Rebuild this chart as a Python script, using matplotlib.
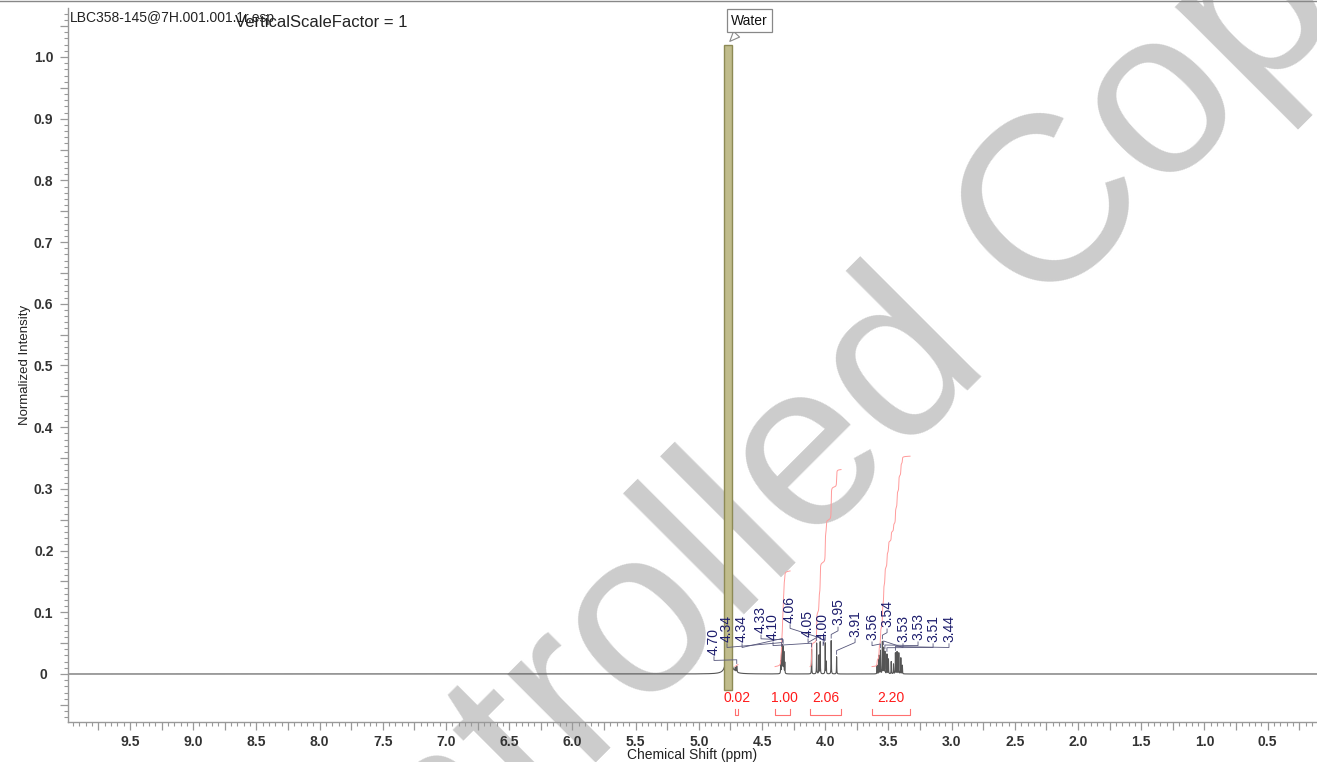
import numpy as np
import matplotlib
matplotlib.use('Agg')
import matplotlib.pyplot as plt
from matplotlib.ticker import MultipleLocator, FuncFormatter
from matplotlib.patches import Rectangle
from matplotlib.lines import Line2D

plt.rcParams['font.family'] = ['Liberation Sans', 'DejaVu Sans']

# ---------------- data ----------------
# spectrum lines (ppm, normalized height, half width in ppm)
peak_ppm = [4.765, 4.712, 4.700,
            4.352, 4.345, 4.339, 4.333, 4.327, 4.320,
            4.108, 4.068, 4.050, 4.040, 4.000, 3.992, 3.953, 3.910,
            3.590, 3.575, 3.563, 3.548, 3.538, 3.528, 3.512, 3.500, 3.478,
            3.460, 3.445, 3.432, 3.418, 3.402, 3.390]
peak_height = [1.000, 0.006, 0.010,
               0.020, 0.038, 0.044, 0.042, 0.034, 0.018,
               0.040, 0.050, 0.030, 0.052, 0.050, 0.020, 0.054, 0.028,
               0.014, 0.030, 0.038, 0.052, 0.042, 0.036, 0.032, 0.024, 0.020,
               0.016, 0.034, 0.036, 0.034, 0.026, 0.014]
peak_hw = [0.0035, 0.0020, 0.0020,
           0.0012, 0.0012, 0.0012, 0.0012, 0.0012, 0.0012,
           0.0012, 0.0012, 0.0012, 0.0012, 0.0012, 0.0012, 0.0012, 0.0012,
           0.0012, 0.0012, 0.0012, 0.0012, 0.0012, 0.0012, 0.0012, 0.0012, 0.0012,
           0.0012, 0.0012, 0.0012, 0.0012, 0.0012, 0.0012]

# peak labels
label_text = ['4.70', '4.34', '4.34', '4.33', '4.10', '4.06', '4.05', '4.00',
              '3.95', '3.91', '3.56', '3.54', '3.53', '3.53', '3.51', '3.44']
label_peak = [4.700, 4.345, 4.339, 4.333, 4.108, 4.068, 4.040, 4.000,
              3.953, 3.910, 3.563, 3.548, 3.538, 3.528, 3.512, 3.445]
label_x = [4.880, 4.777, 4.658, 4.508, 4.413, 4.278, 4.136, 4.017,
           3.899, 3.764, 3.630, 3.511, 3.385, 3.266, 3.147, 3.021]
label_bottom = [0.031, 0.052, 0.052, 0.066, 0.055, 0.083, 0.060, 0.055,
                0.079, 0.060, 0.055, 0.076, 0.052, 0.055, 0.052, 0.052]

# integrals
integ_value = [0.02, 1.00, 2.06, 2.20]
integ_from = [4.714, 4.397, 4.120, 3.630]
integ_to = [4.690, 4.278, 3.875, 3.329]
integ_label_x = [4.698, 4.326, 3.994, 3.479]

# water annotation band
water_from, water_to, water_top = 4.800, 4.735, 1.020

# ---------------- figure ----------------
W, H = 1317, 762
fig = plt.figure(figsize=(W / 100, H / 100), dpi=100)
ax = fig.add_axes([68 / W, 40 / H, (W - 68) / W, (722 - 8) / H])
ax.set_facecolor('none')
ax.set_zorder(1)

# watermark
fig.text(831 / W, 234 / H, 'Controlled Copy', fontsize=170, rotation=45,
         rotation_mode='anchor', ha='center', va='baseline',
         color='#cccccc', zorder=0)

ppm = np.linspace(10.0, 0.1, 60000)
spec = np.zeros_like(ppm)
for p, h, w in zip(peak_ppm, peak_height, peak_hw):
    spec += h / (1.0 + ((ppm - p) / w) ** 2)

ax.plot(ppm, spec, color='#555555', lw=0.8, zorder=2)

# water band
ax.add_patch(Rectangle((water_to, -0.026), water_from - water_to, water_top + 0.026,
                       facecolor='#c0bc8c', edgecolor='#8d8a55', lw=1.0, zorder=3))

# water callout
ax.annotate('Water', xy=(4.770, water_top + 0.002), xytext=(4.600, 1.059),
            ha='center', va='center', fontsize=10, color='#111111',
            bbox=dict(boxstyle='square,pad=0.3', fc='white', ec='#888888', lw=0.9),
            arrowprops=dict(arrowstyle='wedge,tail_width=0.6', fc='white', ec='#888888', lw=0.8),
            zorder=6)

# peak labels with leader lines
def spec_at(p):
    m = np.abs(ppm - p) < 0.003
    return spec[m].max()

for t, pk, lx, lb in zip(label_text, label_peak, label_x, label_bottom):
    ax.text(lx, lb, t, rotation=90, ha='center', va='bottom', fontsize=10,
            color='#1c1c6c', zorder=6)
    yk = spec_at(pk) + 0.004
    ax.plot([lx, lx, pk, pk], [lb - 0.003, lb - 0.009, yk + 0.006, yk],
            color='#55557a', lw=0.6, zorder=5)

# integrals
integ_scale = 0.155
for v, a, b, lxp in zip(integ_value, integ_from, integ_to, integ_label_x):
    m = (ppm <= a) & (ppm >= b)
    seg = spec[m]
    cum = np.cumsum(seg)
    cum = cum / cum[-1] * v * integ_scale + 0.012
    ax.plot(ppm[m], cum, color='#ff9a9a', lw=0.7, zorder=4)
    ax.plot([a, a, b, b], [-0.056, -0.066, -0.066, -0.056], color='#ff7070', lw=0.8, zorder=4)
    ax.text(lxp, -0.039, f'{v:.2f}', ha='center', va='center', fontsize=10,
            color='#ff1a1a', zorder=6)

# axes
ax.set_xlim(9.99, 0.11)
ax.set_ylim(-0.0778, 1.0794)
for s in ['top', 'right']:
    ax.spines[s].set_visible(False)
for s in ['left', 'bottom']:
    ax.spines[s].set_color('#999999')
    ax.spines[s].set_linewidth(1.0)

ax.xaxis.set_major_locator(MultipleLocator(0.25))
ax.xaxis.set_minor_locator(MultipleLocator(0.05))
ax.xaxis.set_major_formatter(FuncFormatter(
    lambda x, p: f'{x:.1f}' if abs(x * 2 - round(x * 2)) < 1e-6 else ''))
ax.yaxis.set_major_locator(MultipleLocator(0.05))
ax.yaxis.set_minor_locator(MultipleLocator(0.01))
ax.yaxis.set_major_formatter(FuncFormatter(
    lambda y, p: ('0' if abs(y) < 1e-9 else f'{y:.1f}') if abs(y * 10 - round(y * 10)) < 1e-6 else ''))
ax.tick_params(which='major', direction='out', length=6, width=0.9, color='#999999',
               labelsize=10, labelcolor='#333333')
ax.tick_params(axis='x', which='major', pad=3)
ax.tick_params(axis='y', which='major', pad=11.5)
ax.tick_params(which='minor', direction='out', length=3, width=0.8, color='#999999')
for lab in ax.get_xticklabels():
    lab.set_fontweight('bold')
for lab in ax.get_yticklabels():
    lab.set_fontweight('bold')
    lab.set_horizontalalignment('center')

ax.set_xlabel('Chemical Shift (ppm)', fontsize=10, color='#222222', labelpad=0)
ax.set_ylabel('Normalized Intensity', fontsize=9.5, color='#222222', labelpad=2)

# header texts
fig.text(70 / W, 1 - 22 / H, 'LBC358-145@7H.001.001.1r.esp', fontsize=10,
         color='#222222', va='baseline', ha='left', zorder=5)
fig.text(235 / W, 1 - 27 / H, 'VerticalScaleFactor = 1', fontsize=12,
         color='#222222', va='baseline', ha='left', zorder=5)

# top border line
fig.add_artist(Line2D([0, 1], [1 - 0.5 / H, 1 - 0.5 / H], transform=fig.transFigure,
                      color='#888888', lw=1.0))

fig.savefig('out.png', dpi=100)
